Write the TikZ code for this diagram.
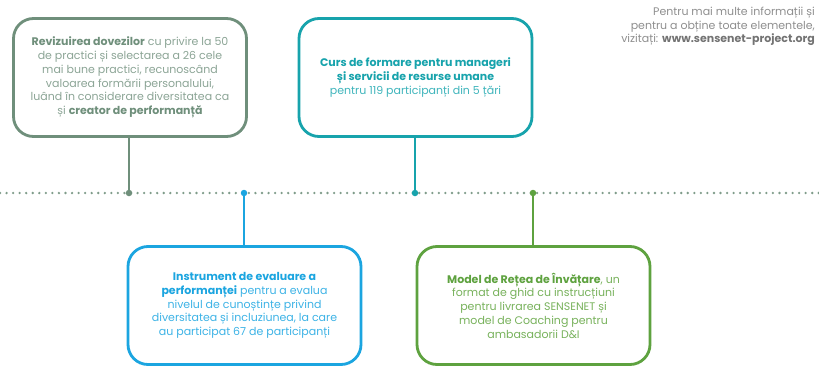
\documentclass[tikz,border=0pt]{standalone}
\usepackage{fontspec}
\setmainfont{Poppins}
\definecolor{cA}{HTML}{6F8F7B}
\definecolor{cAt}{HTML}{8CA596}
\definecolor{cB}{HTML}{17A3AC}
\definecolor{cBt}{HTML}{3FB5BC}
\definecolor{cC}{HTML}{1BA5E0}
\definecolor{cCt}{HTML}{3DB3E6}
\definecolor{cD}{HTML}{5EA23F}
\definecolor{cDt}{HTML}{78B25C}
\definecolor{note}{HTML}{8E8E8E}
\definecolor{dots}{HTML}{7F9C8A}
\begin{document}
\begin{tikzpicture}[x=1pt,y=-1pt,
  card/.style={draw,line width=2.8pt,rounded corners=20pt,fill=white,
    minimum width=233pt,minimum height=118pt,align=center,
    font=\fontsize{11}{13.7}\selectfont,inner sep=0pt},
  stem/.style={line width=2.8pt},
  jdot/.style={circle,inner sep=0pt,minimum size=6.5pt}]
\useasboundingbox (0,0) rectangle (819,367);
\coordinate (L) at (0,193);
\coordinate (R) at (819,193);
\draw[dots,line width=2.6pt,line cap=round,dash pattern=on 0pt off 6.55pt] (L) -- (R);

\node[card,draw=cA,text=cAt] (b1) at (130,77.5) {\textbf{\color{cA}Revizuirea dovezilor} cu privire la 50\\de practici și selectarea a 26 cele\\mai bune practici, recunoscând\\valoarea formării personalului,\\luând în considerare diversitatea ca\\și \textbf{\color{cA}creator de performanță}};
\node[card,draw=cB,text=cBt] (b2) at (415.5,77.5) {\textbf{\color{cB}Curs de formare pentru manageri}\\\textbf{\color{cB}și servicii de resurse umane}\\pentru 119 participanți din 5 țări};
\node[card,draw=cC,text=cCt] (b3) at (244.5,305.5) {\textbf{\color{cC}Instrument de evaluare a}\\\textbf{\color{cC}performanței} pentru a evalua\\nivelul de cunoștințe privind\\diversitatea și incluziunea, la care\\au participat 67 de participanți};
\node[card,draw=cD,text=cDt] (b4) at (533.5,305.5) {\textbf{\color{cD}Model de Rețea de Învățare}, un\\format de ghid cu instrucțiuni\\pentru livrarea SENSENET și\\model de Coaching pentru\\ambasadorii D\&I};

\node[jdot,fill=cA] (j1) at (129,193) {};
\node[jdot,fill=cB] (j2) at (415,193) {};
\node[jdot,fill=cC] (j3) at (244,193) {};
\node[jdot,fill=cD] (j4) at (533,193) {};
\draw[stem,cA] (b1.south -| j1) -- (j1.center);
\draw[stem,cB] (b2.south -| j2) -- (j2.center);
\draw[stem,cC] (j3.center) -- (b3.north -| j3);
\draw[stem,cD] (j4.center) -- (b4.north -| j4);

\node[anchor=north east,align=right,text=note,inner sep=0pt,
  font=\fontsize{11}{13.6}\selectfont] (info) at (815,7)
  {Pentru mai multe informații și\\pentru a obține toate elementele,\\vizitați: \textbf{\color{gray!90!black}www.sensenet-project.org}};
\end{tikzpicture}
\end{document}
